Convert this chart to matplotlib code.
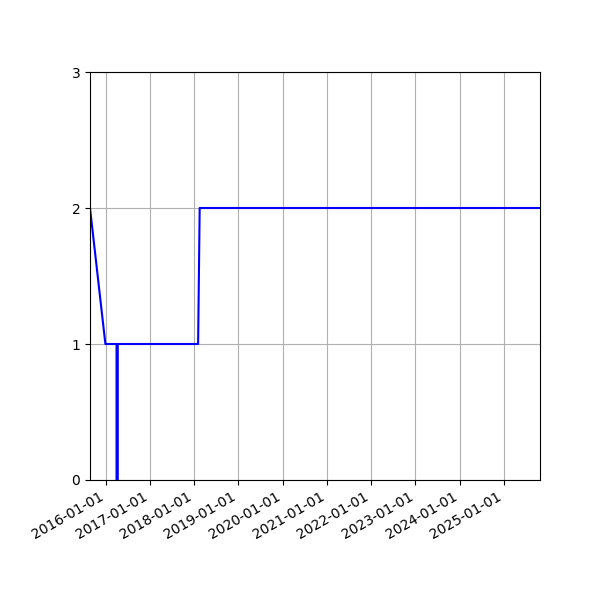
import matplotlib
matplotlib.use("Agg")
import matplotlib.pyplot as plt
import matplotlib.dates as mdates
import numpy as np
import datetime as dt

dates = ["2015-08-26", "2015-12-31", "2016-04-01", "2016-04-01", "2016-04-11", "2016-04-11",
         "2018-02-03", "2018-02-16", "2025-10-25"]
values = [2, 1, 1, 0, 0, 1, 1, 2, 2]
yticks = [0, 1, 2, 3]

x = [dt.datetime.strptime(d, "%Y-%m-%d") for d in dates]

fig, ax = plt.subplots(figsize=(6, 6), dpi=100)
ax.plot(x, values, color="blue", linewidth=1.5)
ax.set_xlim(x[0], x[-1])
ax.set_ylim(0, 3)
ax.set_yticks(yticks)
ax.xaxis.set_major_locator(mdates.YearLocator())
ax.xaxis.set_major_formatter(mdates.DateFormatter("%Y-%m-%d"))
ax.grid(True)
fig.autofmt_xdate()
fig.subplots_adjust(left=0.15, right=0.9, top=0.88, bottom=0.2)
fig.savefig("out.png", dpi=100)
